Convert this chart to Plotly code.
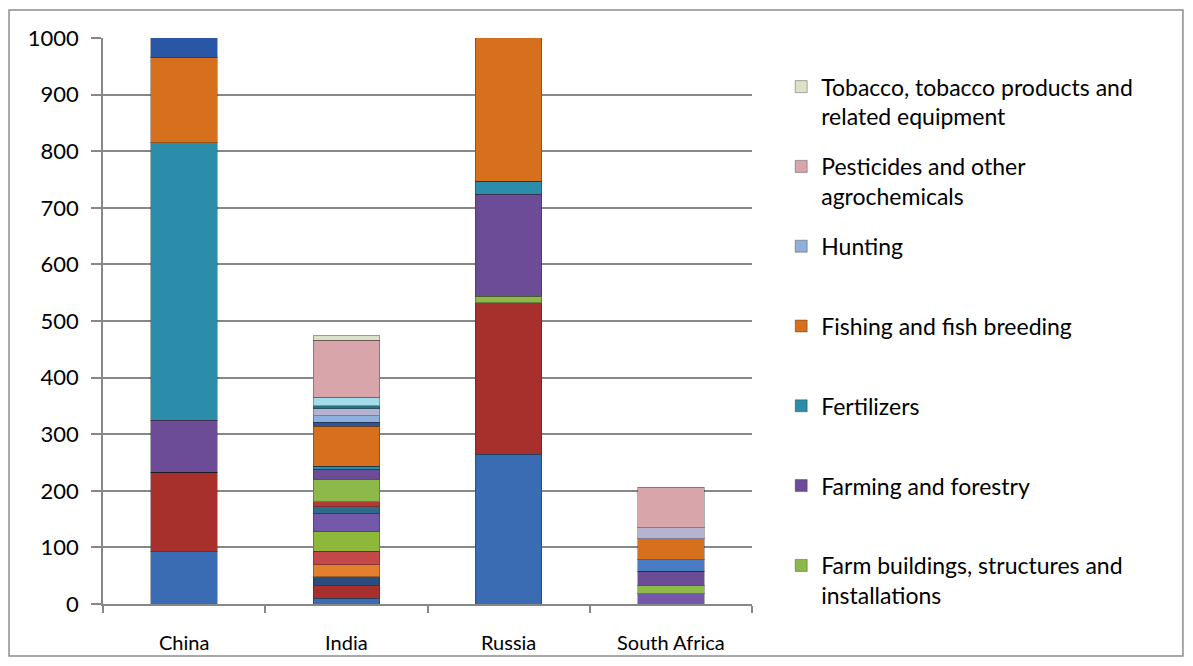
import plotly.graph_objects as go

# ---------------- data ----------------
categories = ["China", "India", "Russia", "South Africa"]

# stacked layers, bottom to top: [China, India, Russia, South Africa]
layer_01 = [92, 10, 265, 0]
layer_02 = [141, 22, 267, 0]
layer_03 = [0, 16, 0, 0]
layer_04 = [0, 21, 0, 0]
layer_05 = [0, 24, 0, 0]
layer_06 = [0, 35, 0, 0]
layer_07 = [0, 32, 0, 18]
layer_08 = [0, 12, 0, 0]
layer_09 = [0, 9, 0, 0]
farm_buildings = [0, 39, 12, 15]
farming_forestry = [92, 18, 180, 25]
fertilizers = [490, 5, 23, 0]
layer_12b = [0, 0, 0, 20]
fishing = [150, 71, 280, 37]
layer_14 = [60, 7, 0, 0]
hunting = [0, 12, 0, 0]
layer_16 = [0, 12, 0, 20]
layer_17 = [0, 5, 0, 0]
layer_18 = [0, 15, 0, 0]
pesticides = [0, 101, 0, 70]
tobacco = [0, 9, 0, 0]

y_ticks = [0, 100, 200, 300, 400, 500, 600, 700, 800, 900, 1000]

# (values, legend name, colour, show in legend)
layers = [
    (layer_01, "Layer 1", "#3A6CB3", False),
    (layer_02, "Layer 2", "#A8302C", False),
    (layer_03, "Layer 3", "#2B4C7E", False),
    (layer_04, "Layer 4", "#E2802E", False),
    (layer_05, "Layer 5", "#C4474A", False),
    (layer_06, "Layer 6", "#8DB83A", False),
    (layer_07, "Layer 7", "#7458AA", False),
    (layer_08, "Layer 8", "#2E6C8C", False),
    (layer_09, "Layer 9", "#B03A3A", False),
    (farm_buildings, "Farm buildings, structures and<br>installations", "#8DB84A", True),
    (farming_forestry, "Farming and forestry", "#6C4C96", True),
    (fertilizers, "Fertilizers", "#2B8DAA", True),
    (layer_12b, "Layer 12b", "#4A7CC4", False),
    (fishing, "Fishing and fish breeding", "#D6701D", True),
    (layer_14, "Layer 14", "#2A57A5", False),
    (hunting, "Hunting", "#8FB0DA", True),
    (layer_16, "Layer 16", "#B5B3CF", False),
    (layer_17, "Layer 17", "#2F6F80", False),
    (layer_18, "Layer 18", "#A3DCEB", False),
    (pesticides, "Pesticides and other<br>agrochemicals", "#D8A5AB", True),
    (tobacco, "Tobacco, tobacco products and<br>related equipment", "#DCE2C6", True),
]

fig = go.Figure()
n = len(layers)
for i, (vals, name, color, show) in enumerate(layers):
    label = name if "<br>" in name or not show else name + "<br> "
    fig.add_trace(go.Bar(
        x=categories, y=vals, name=label,
        marker=dict(color=color, line=dict(color="rgba(30,30,30,0.35)", width=1)),
        showlegend=show, legendgroup=name, legendrank=n - i,
    ))

FONT = "Lato"
GRID = "#878787"

fig.update_layout(
    width=1193, height=666,
    barmode="stack", bargap=0.59,
    paper_bgcolor="white", plot_bgcolor="white",
    margin=dict(l=103, r=441, t=38, b=62),
    font=dict(family=FONT, size=20, color="black"),
    legend=dict(
        x=1.045, y=0.952, xanchor="left", yanchor="top",
        traceorder="grouped", tracegroupgap=17, valign="top",
        font=dict(family=FONT, size=23, color="black"),
        bgcolor="rgba(0,0,0,0)",
    ),
    xaxis=dict(
        type="category", showgrid=False, showline=True, linecolor=GRID, linewidth=1.5,
        ticks="outside", tickson="boundaries", ticklen=7, tickcolor=GRID, tickwidth=1.5,
        tickfont=dict(family=FONT, size=20, color="black"), ticklabelstandoff=20,
    ),
    yaxis=dict(
        range=[0, 1000], tickvals=y_ticks, showgrid=True, gridcolor=GRID, gridwidth=1.5,
        showline=True, linecolor=GRID, linewidth=1.5, zeroline=False,
        ticks="outside", ticklen=10, tickcolor=GRID, tickwidth=1.5,
        tickfont=dict(family=FONT, size=22, color="black"), ticklabelstandoff=8,
    ),
    shapes=[dict(type="rect", xref="paper", yref="paper",
                 x0=-0.1448, x1=1.664, y0=-0.0919, y1=1.0495,
                 line=dict(color="#8C8C8C", width=1.5), fillcolor="rgba(0,0,0,0)", layer="below")],
)

fig.write_html("out.html")
